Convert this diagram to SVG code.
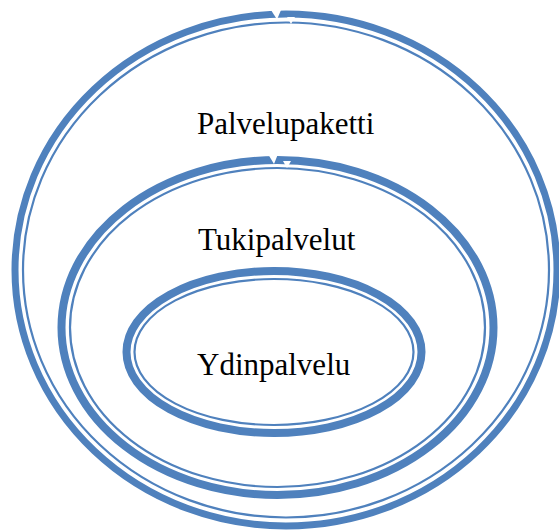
<svg xmlns="http://www.w3.org/2000/svg" width="559" height="532" viewBox="0 0 559 532">
  <style>
    .thick { fill: none; stroke: #4f81bd; stroke-width: 7; }
    .thick.wide { stroke-width: 8; }
    .thin { fill: none; stroke: #4f81bd; stroke-width: 2.2; }
    .label { font-family: "Liberation Serif", "Times New Roman", serif; font-size: 31px; fill: #000; }
    .notch { fill: #fff; }
  </style>
  <rect width="559" height="532" fill="#fff"/>

  <!-- outer ring -->
  <g id="palvelupaketti">
    <ellipse class="thick" cx="286" cy="270" rx="271" ry="256"/>
    <ellipse class="thin" cx="286" cy="270" rx="263" ry="247.5"/>
    <polygon class="notch" points="271,10 277,19.5 281,10"/>
    <polygon class="notch" points="287,17 291,24 295,17"/>
    <text class="label" x="197" y="134">Palvelupaketti</text>
  </g>

  <!-- middle ring -->
  <g id="tukipalvelut">
    <ellipse class="thick wide" cx="277.5" cy="327.5" rx="216" ry="167.5"/>
    <ellipse class="thin" cx="277.5" cy="327.5" rx="207.5" ry="159.5"/>
    <polygon class="notch" points="268,154 274,164 278,154"/>
    <polygon class="notch" points="283,161 287,168 291,161"/>
    <text class="label" x="198" y="250">Tukipalvelut</text>
  </g>

  <!-- inner ring -->
  <g id="ydinpalvelu">
    <ellipse class="thick wide" cx="274" cy="352" rx="147.5" ry="81"/>
    <ellipse class="thin" cx="274" cy="352" rx="139.5" ry="73"/>
    <text class="label" x="197" y="375">Ydinpalvelu</text>
  </g>

  <g id="connectors"/>
</svg>
